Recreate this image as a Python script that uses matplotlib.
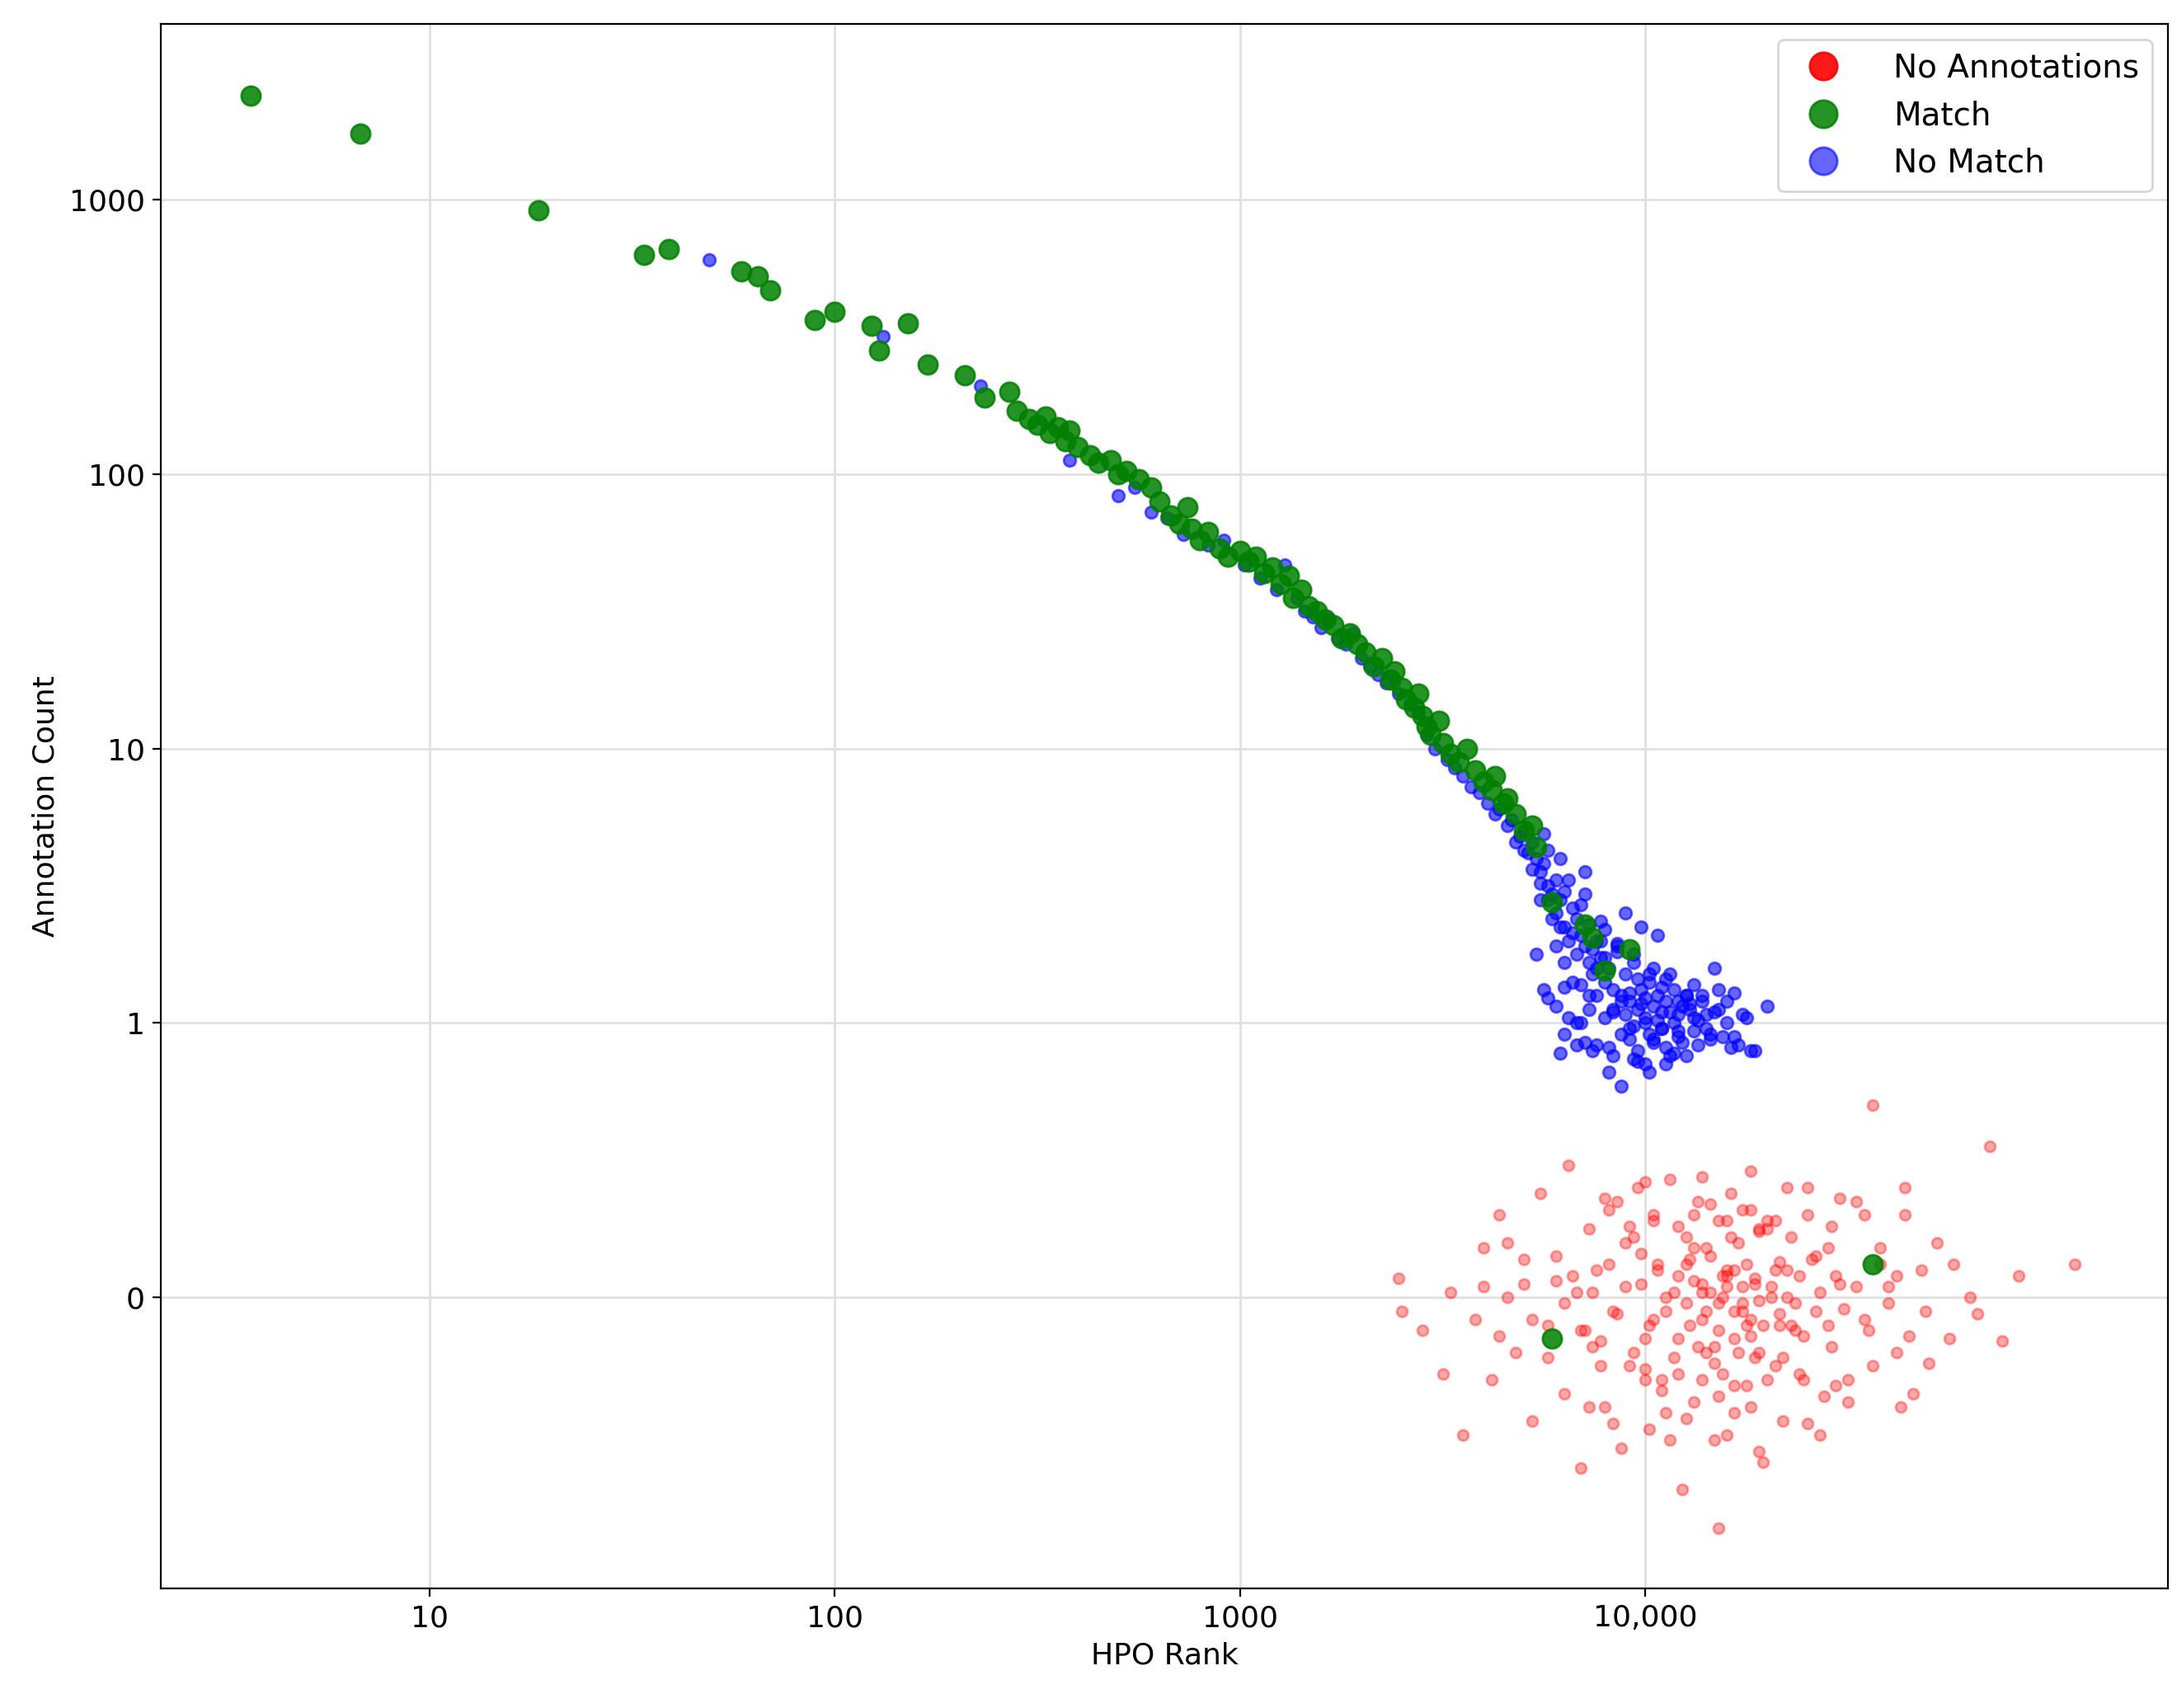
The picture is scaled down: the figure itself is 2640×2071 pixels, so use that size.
import matplotlib
matplotlib.use("Agg")
import matplotlib.pyplot as plt
from matplotlib.lines import Line2D

# values in log10 units: x = log10(HPO rank), y = log10(annotation count); y=-1 means 0 annotations
green_x = [0.56,0.83,1.27,1.53,1.59,1.77,1.81,1.84,1.95,2.00,2.09,2.11,2.18,2.23,2.32,2.37,2.43,2.45,2.48,2.50,2.52,2.53,2.55,2.57,2.58,2.60,2.63,2.65,2.68,2.70,2.72,2.75,2.78,2.80,2.83,2.85,2.87,2.88,2.90,2.92,2.95,2.97,3.00,3.02,3.04,3.06,3.08,3.10,3.12,3.13,3.15,3.17,3.19,3.21,3.23,3.25,3.27,3.29,3.31,3.33,3.35,3.37,3.38,3.40,3.41,3.43,3.44,3.45,3.46,3.47,3.49,3.50,3.52,3.54,3.56,3.58,3.60,3.62,3.63,3.65,3.66,3.68,3.70,3.72,3.73,3.77,3.85,3.87,3.90,3.96,3.77,4.56]
green_y = [3.38,3.24,2.96,2.80,2.82,2.74,2.72,2.67,2.56,2.59,2.54,2.45,2.55,2.40,2.36,2.28,2.30,2.23,2.20,2.18,2.21,2.15,2.17,2.12,2.16,2.10,2.07,2.04,2.05,2.00,2.01,1.98,1.95,1.90,1.85,1.82,1.88,1.80,1.76,1.79,1.73,1.70,1.72,1.68,1.70,1.64,1.66,1.60,1.63,1.55,1.58,1.52,1.50,1.47,1.45,1.40,1.42,1.38,1.35,1.30,1.33,1.25,1.28,1.22,1.18,1.15,1.20,1.12,1.08,1.05,1.10,1.02,0.98,0.95,1.00,0.92,0.88,0.85,0.90,0.80,0.82,0.76,0.70,0.72,0.64,0.44,0.36,0.31,0.19,0.27,-1.15,-0.88]

blue_x = [1.69,2.12,2.36,2.58,2.70,2.74,2.78,2.82,2.86,2.92,2.96,3.01,3.05,3.09,3.11,3.14,3.16,3.18,3.20,3.22,3.24,3.26,3.28,3.30,3.32,3.34,3.36,3.39,3.42,3.44,3.46,3.48,3.51,3.53,3.55,3.57,3.59,3.61,3.63,3.64,3.66,3.67,3.69,3.70,3.71,3.72,3.73,3.74,3.75,3.76,3.76,3.77,3.78,3.78,3.79,3.80,3.80,3.81,3.82,3.83,3.83,3.84,3.85,3.86,3.86,3.87,3.88,3.89,3.90,3.90,3.91,3.92,3.93,3.94,3.95,3.96,3.97,3.98,3.99,4.00,4.01,4.02,4.03,4.04,4.05,4.06,4.07,4.08,4.09,4.10,4.12,4.14,4.16,4.18,4.20,4.22,4.25,4.30,3.73,3.75,3.78,3.80,3.82,3.84,3.86,3.88,3.90,3.92,3.94,3.96,3.98,4.00,4.02,4.04,4.06,4.08,4.11,4.13,4.15,4.19,4.23,4.27,3.89,3.93,3.97,4.01,4.05,3.95,3.99,4.03,3.84,3.88,3.92,3.96,4.00,4.04,4.08,4.12,3.81,3.87,3.91,3.94,3.98,4.02,4.07,4.10,4.17,3.74,3.79,3.85,3.83]
blue_y = [2.78,2.50,2.32,2.05,1.92,1.95,1.86,1.84,1.78,1.74,1.76,1.67,1.62,1.58,1.67,1.55,1.50,1.48,1.44,1.47,1.40,1.38,1.42,1.33,1.30,1.27,1.24,1.20,1.16,1.13,1.05,1.00,0.96,0.93,0.90,0.86,0.84,0.80,0.76,0.78,0.72,0.74,0.68,0.70,0.62,0.66,0.60,0.55,0.58,0.50,0.63,0.47,0.52,0.40,0.45,0.35,0.48,0.30,0.42,0.25,0.38,0.32,0.28,0.22,0.36,0.18,0.30,0.24,0.15,0.34,0.20,0.12,0.26,0.10,0.18,0.08,0.22,0.05,0.12,0.02,0.15,0.06,0.10,-0.02,0.08,0.04,0.12,-0.05,0.06,0.10,0.02,0.08,-0.04,0.05,0.08,-0.05,0.02,0.06,0.25,0.12,0.06,-0.04,0.15,0.00,0.05,-0.08,0.02,-0.12,0.08,-0.02,-0.10,0.00,-0.06,0.04,-0.12,-0.03,0.07,-0.08,0.03,-0.05,-0.08,-0.10,0.30,0.28,0.25,0.18,0.16,0.40,0.35,0.32,0.14,0.10,0.05,-0.06,-0.15,-0.02,0.03,0.14,0.02,-0.10,-0.18,-0.23,-0.14,-0.07,-0.11,0.10,0.20,0.45,0.35,0.55,-0.08]

# additional No Match points in the dense cloud, as (x, y)
blue_extra = [(3.95,0.03),(3.97,-0.01),(3.99,0.07),(4.01,-0.04),(4.03,0.01),(4.05,-0.09),(3.92,0.04),(3.96,0.11),(4.00,0.09),(4.04,0.13),
              (4.07,0.00),(4.09,-0.07),(4.11,0.05),(4.13,0.01),(4.15,-0.02),(4.17,0.04),(4.21,-0.09),(4.24,0.03),(3.88,0.20),(3.86,0.10),
              (3.83,0.00),(3.80,0.13),(3.78,0.28),(3.84,0.43),(3.81,0.52),(3.79,0.60),(3.77,0.38),(3.82,0.33),(3.87,0.27),(3.90,0.24),
              (3.93,0.29),(3.89,0.37),(3.85,0.47),(3.76,0.45),(3.74,0.51),(3.72,0.56),(3.70,0.63),(3.68,0.66),(3.75,0.69),(3.80,0.22),
              (3.98,0.16),(4.02,0.20),(4.06,0.18),(3.94,-0.04),(3.91,-0.09),(4.08,0.08),(4.12,-0.03),(4.14,0.10),(4.18,0.12),(4.20,0.00),
              (3.76,0.09),(3.79,-0.11),(3.85,-0.07),(3.97,-0.13),(4.01,-0.18),(4.05,-0.15),(4.10,-0.12),(4.16,-0.06),(4.26,-0.10),(4.22,0.11)]

red_x = [3.39,3.40,3.45,3.50,3.52,3.55,3.58,3.60,3.62,3.64,3.66,3.68,3.70,3.72,3.74,3.76,3.78,3.80,3.81,3.83,3.84,3.86,3.87,3.88,3.90,3.91,3.92,3.94,3.95,3.96,3.98,3.99,4.00,4.01,4.02,4.03,4.04,4.05,4.06,4.07,4.08,4.09,4.10,4.11,4.12,4.13,4.14,4.15,4.16,4.17,4.18,4.18,4.19,4.20,4.21,4.22,4.22,4.23,4.24,4.25,4.26,4.27,4.28,4.29,4.30,4.31,4.32,4.33,4.34,4.35,4.36,4.38,4.39,4.40,4.42,4.43,4.45,4.46,4.48,4.50,4.52,4.54,4.56,4.58,4.60,4.62,4.64,4.66,4.69,4.72,4.75,4.80,4.85,4.92,5.06,3.85,3.93,4.00,4.05,4.10,4.15,4.20,4.25,4.30,4.35,4.12,4.17,4.22,4.27,3.97,4.02,4.07,4.32,4.37,4.42,4.47,4.08,4.14,4.24,4.28,4.33,4.19,4.26,3.89,4.56,4.63]
red_y = [-0.93,-1.05,-1.12,-1.28,-0.98,-1.50,-1.08,-0.82,-1.30,-0.70,-1.00,-1.20,-0.95,-1.45,-0.62,-1.10,-0.85,-1.35,-0.52,-0.98,-1.62,-0.75,-1.18,-0.90,-1.40,-0.68,-1.05,-1.55,-0.80,-1.25,-0.60,-0.95,-1.15,-1.48,-0.72,-0.88,-1.30,-1.05,-0.57,-1.22,-0.92,-1.70,-0.78,-1.10,-1.38,-0.65,-0.98,-1.20,-0.85,-1.52,-0.72,-1.02,-1.28,-0.92,-0.62,-1.15,-1.42,-0.80,-1.05,-1.32,-0.68,-0.95,-1.20,-1.60,-0.75,-1.00,-1.25,-0.87,-1.45,-0.60,-1.10,-0.92,-1.30,-0.70,-1.05,-1.50,-0.82,-1.18,-0.95,-1.38,-0.65,-1.08,-1.25,-0.88,-0.96,-1.20,-0.60,-1.35,-1.05,-0.80,-1.15,-1.00,-0.45,-0.92,-0.88,-1.12,-0.65,-1.30,-1.42,-0.88,-1.05,-0.96,-1.10,-0.72,-1.00,-0.82,-1.18,-0.90,-1.22,-0.78,-1.08,-0.98,-0.90,-1.12,-0.85,-1.32,-1.15,-0.95,-1.02,-0.75,-1.10,-0.92,-1.08,-1.25,-0.30,-1.40,-0.28]

# additional No Annotations points in the dense core, as (x, y)
red_extra = [(4.10,-1.02),(4.12,-0.94),(4.14,-1.08),(4.16,-0.98),(4.18,-1.12),(4.20,-0.90),(4.22,-1.05),(4.24,-0.96),(4.26,-1.14),(4.28,-1.01),
             (4.11,-0.86),(4.13,-1.18),(4.15,-0.82),(4.17,-1.24),(4.19,-1.00),(4.21,-0.78),(4.23,-1.20),(4.25,-0.88),(4.27,-0.93),(4.29,-1.10),
             (4.05,-1.00),(4.03,-0.90),(4.01,-1.10),(3.99,-0.84),(3.97,-1.20),(3.95,-0.96),(3.93,-1.06),(3.91,-0.88),(3.89,-1.16),(3.87,-0.98),
             (4.31,-0.96),(4.33,-1.06),(4.35,-0.90),(4.37,-1.02),(4.39,-1.14),(4.41,-0.86),(4.43,-0.98),(4.45,-1.10),(4.47,-0.92),(4.49,-1.04),
             (4.14,-1.30),(4.18,-1.36),(4.22,-1.32),(4.26,-1.40),(4.08,-1.28),(4.30,-1.30),(4.34,-1.22),(4.04,-1.34),(4.00,-1.26),(4.38,-1.28),
             (4.12,-0.70),(4.16,-0.66),(4.20,-0.72),(4.24,-0.68),(4.28,-0.76),(4.08,-0.74),(4.32,-0.72),(4.36,-0.78),(4.02,-0.70),(3.96,-0.74),
             (3.80,-1.02),(3.82,-0.92),(3.84,-1.12),(3.78,-0.94),(3.76,-1.22),(3.72,-1.08),(3.70,-0.86),(4.52,-0.96),(4.55,-1.12),(4.58,-0.82),
             (4.60,-1.02),(4.62,-0.92),(4.65,-1.14),(4.68,-0.90),(4.70,-1.24),(4.50,-1.30),(4.46,-0.74),(4.54,-0.70),(3.86,-1.40),(3.92,-1.46),
             (4.06,-1.52),(4.10,-1.44),(4.20,-1.50),(4.28,-1.56),(4.40,-1.46),(4.44,-1.36),(3.90,-0.64),(4.00,-0.58),(4.14,-0.56),(4.26,-0.54),
             (4.40,-0.60),(4.48,-0.64),(4.64,-0.70),(4.76,-0.88),(4.82,-1.06),(4.88,-1.16),(3.60,-0.96),(3.64,-1.14),(3.66,-0.80),(4.18,-1.84)]

x_ticks = [1, 2, 3, 4]
x_labels = ["10", "100", "1000", "10,000"]
y_ticks = [-1, 0, 1, 2, 3]
y_labels = ["0", "1", "10", "100", "1000"]

def pairs(xs, ys, extra=()):
    n = min(len(xs), len(ys))
    return list(xs[:n]) + [p[0] for p in extra], list(ys[:n]) + [p[1] for p in extra]

fig = plt.figure(figsize=(13.2, 10.355), dpi=200)
ax = fig.add_axes([0.074, 0.070, 0.922, 0.916])
ax.scatter(*pairs(red_x, red_y, red_extra), s=22, color="red", alpha=0.35, zorder=2)
ax.scatter(*pairs(blue_x, blue_y, blue_extra), s=28, color="blue", alpha=0.6, zorder=3)
ax.scatter(*pairs(green_x, green_y), s=70, color="green", alpha=0.85, zorder=4)
ax.set_xlim(0.338, 5.29)
ax.set_ylim(-2.06, 3.64)
ax.set_xticks(x_ticks, x_labels)
ax.set_yticks(y_ticks, y_labels)
ax.grid(True, color="#e0e0e0", linewidth=1)
ax.set_axisbelow(True)
ax.tick_params(labelsize=13)
ax.set_xlabel("HPO Rank", fontsize=13)
ax.set_ylabel("Annotation Count", fontsize=13)
handles = [Line2D([], [], marker="o", ls="", color="red", alpha=0.9, markersize=12),
           Line2D([], [], marker="o", ls="", color="green", alpha=0.85, markersize=12),
           Line2D([], [], marker="o", ls="", color="blue", alpha=0.6, markersize=12)]
ax.legend(handles, ["No Annotations", "Match", "No Match"], loc="upper right", fontsize=14,
          handletextpad=1.2, labelspacing=0.5)
fig.savefig("out.png", dpi=200)
